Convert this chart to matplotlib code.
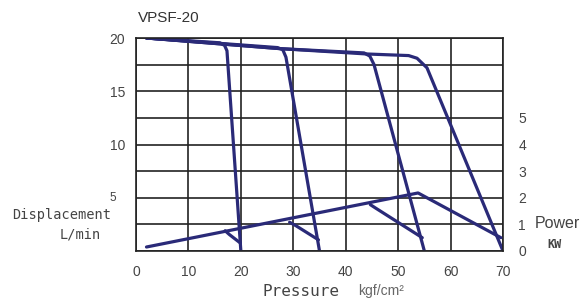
import matplotlib
matplotlib.use("Agg")
import matplotlib.pyplot as plt

# displacement curves (pressure kgf/cm2, flow L/min), one per pressure setting
p_20 = [2, 16, 16.9, 17.35, 20]
q_20 = [20, 19.55, 19.3, 18.8, 0]
p_35 = [2, 27, 28, 28.6, 35]
q_35 = [20, 19.1, 18.9, 18.2, 0]
p_55 = [2, 27.5, 43.5, 44.6, 45.4, 55]
q_55 = [20, 19.0, 18.6, 18.3, 17.5, 0]
p_70 = [2, 27.5, 44, 52, 53.6, 55.5, 70]
q_70 = [20, 19.0, 18.5, 18.35, 18.1, 17.2, 0]

# power curves (pressure, kW)
pw_main_p = [2, 53.8, 69.6]
pw_main = [0.15, 2.18, 0.5]
pw_20_p = [17, 17.8, 19.9]
pw_20 = [0.76, 0.62, 0.3]
pw_35_p = [29.3, 30.5, 34.8]
pw_35 = [1.08, 0.95, 0.42]
pw_55_p = [44.7, 45.8, 54.6]
pw_55 = [1.74, 1.6, 0.5]

W, H = 582, 302
LINE = "#2a2a78"
TXT = "#444444"

fig = plt.figure(figsize=(W / 100, H / 100), dpi=100)
ax = fig.add_axes([136 / W, 1 - 251 / H, (503 - 136) / W, (251 - 38) / H])

ax.set_xlim(0, 70)
ax.set_ylim(0, 20)
ax.set_xticks(range(0, 71, 10))
ax.set_yticks([10, 15, 20])
ax.set_yticks([i * 2.5 for i in range(9)], minor=True)
ax.grid(True, which="both", color="#222222", lw=1.2)
ax.set_axisbelow(True)
for s in ax.spines.values():
    s.set_color("#222222")
    s.set_linewidth(1.2)
ax.tick_params(which="both", length=0, labelsize=10, labelcolor=TXT)
ax.tick_params(axis="x", pad=10)
ax.tick_params(axis="y", pad=8)
for lbl in ax.get_xticklabels() + ax.get_yticklabels():
    lbl.set_family("Liberation Sans")
# the "5" label sits a little left and smaller in the original
ax.annotate("5", (0, 5), xytext=(-17, 0), textcoords="offset points",
            ha="center", va="center", fontsize=8.5, color=TXT,
            family="Liberation Sans")

for p, q in [(p_20, q_20), (p_35, q_35), (p_55, q_55), (p_70, q_70)]:
    ax.plot(p, q, color=LINE, lw=2.3, solid_joinstyle="round", solid_capstyle="round")

ax2 = ax.twinx()
ax2.set_ylim(0, 8)
ax2.set_yticks(range(0, 6))
ax2.tick_params(length=0, labelsize=10, labelcolor=TXT, pad=11)
for lbl in ax2.get_yticklabels():
    lbl.set_family("Liberation Sans")
for s in ax2.spines.values():
    s.set_visible(False)
for p, w in [(pw_main_p, pw_main), (pw_20_p, pw_20), (pw_35_p, pw_35), (pw_55_p, pw_55)]:
    ax2.plot(p, w, color=LINE, lw=2.3, solid_joinstyle="round", solid_capstyle="round")

def fx(px):
    return px / W

def fy(py):
    return 1 - py / H

fig.text(fx(138), fy(18), "VPSF-20", fontsize=11, family="Liberation Sans",
         color="#333333", va="center", ha="left")
fig.text(fx(111), fy(215), "Displacement", fontsize=9.8, family="DejaVu Sans Mono",
         color=TXT, va="center", ha="right")
fig.text(fx(101), fy(235), "L/min", fontsize=9.8, family="DejaVu Sans Mono",
         color=TXT, va="center", ha="right")
fig.text(fx(262), fy(292), "Pressure", fontsize=11.5, family="DejaVu Sans Mono",
         color=TXT, va="center", ha="left")
fig.text(fx(358), fy(291), "kgf/cm²", fontsize=10, family="Liberation Sans",
         color="#666666", va="center", ha="left")
fig.text(fx(535), fy(223), "Power", fontsize=11.5, family="Liberation Sans",
         color=TXT, va="center", ha="left")
fig.text(fx(547), fy(245), "KW", fontsize=8.5, family="DejaVu Sans Mono",
         weight="bold", color=TXT, va="center", ha="left")

fig.savefig("out.png", dpi=100)
